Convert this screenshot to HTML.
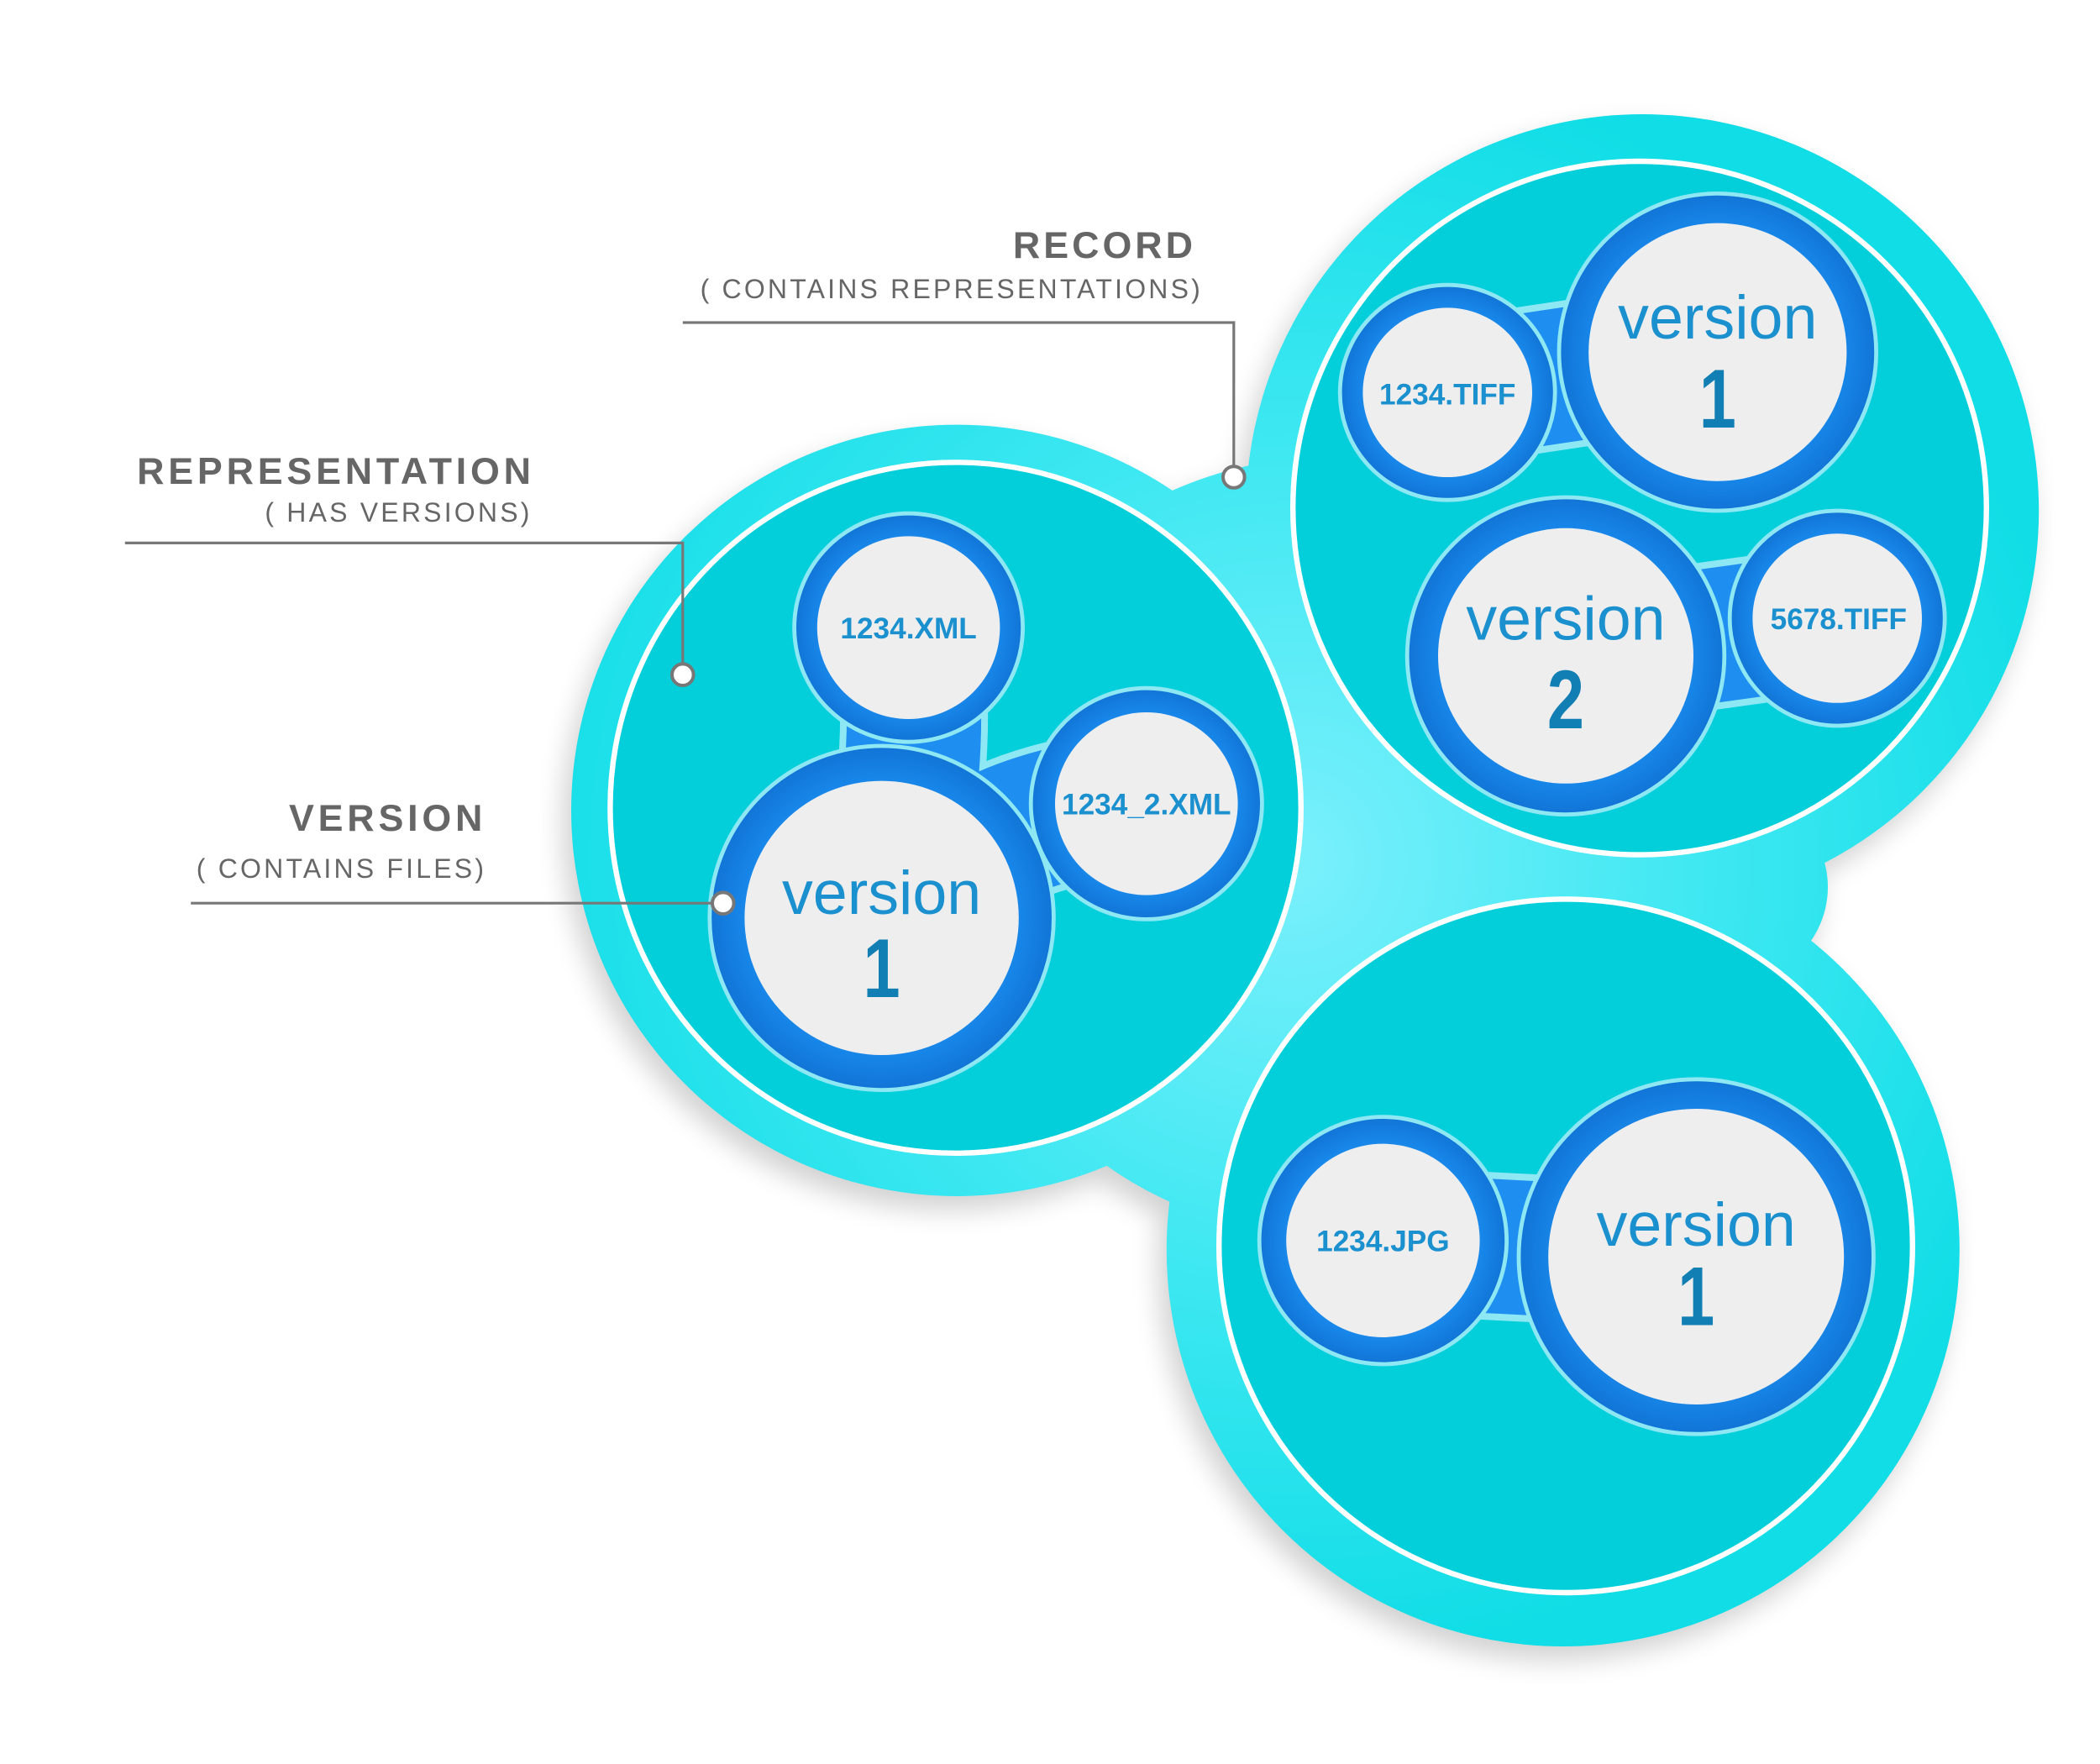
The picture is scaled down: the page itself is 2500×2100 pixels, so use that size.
<!DOCTYPE html>
<html><head><meta charset="utf-8"><style>
html,body{margin:0;padding:0;background:#fff;width:2500px;height:2100px;overflow:hidden}
svg{display:block}
text{font-family:"Liberation Sans",sans-serif}
</style></head><body>
<svg width="2500" height="2100" viewBox="0 0 1562.5 1312.5" xmlns="http://www.w3.org/2000/svg">
<defs>
<radialGradient id="bg" cx="960" cy="640" r="600" gradientUnits="userSpaceOnUse">
<stop offset="0" stop-color="#7af0fc"/><stop offset="0.5" stop-color="#40e8f2"/><stop offset="1" stop-color="#10dde6"/>
</radialGradient>
<radialGradient id="bl" cx="0.5" cy="0.5" r="0.6">
<stop offset="0" stop-color="#5cc4f4"/><stop offset="0.6" stop-color="#1a8ef0"/><stop offset="1" stop-color="#0a62c4"/>
</radialGradient>
<filter id="sh" x="-10%" y="-10%" width="120%" height="120%"><feGaussianBlur stdDeviation="10"/></filter>
</defs>
<g fill="#000" opacity="0.18" filter="url(#sh)" transform="translate(-6,10)">
<circle cx="712" cy="603" r="287"/><circle cx="1222" cy="380" r="295"/><circle cx="1163" cy="930" r="295"/><circle cx="990" cy="630" r="290"/><circle cx="1290" cy="660" r="70"/>
</g>
<g fill="url(#bg)">
<circle cx="712" cy="603" r="287"/><circle cx="1222" cy="380" r="295"/><circle cx="1163" cy="930" r="295"/><circle cx="990" cy="630" r="290"/><circle cx="1290" cy="660" r="70"/>
</g>
<g fill="#02cfda" stroke="#fff" stroke-width="4">
<circle cx="711" cy="601" r="257"/><circle cx="1220" cy="378" r="258"/><circle cx="1165" cy="927" r="258"/>
</g>
<!-- connectors -->
<g stroke="#8ee8f4" stroke-width="110" stroke-linecap="round" fill="none">
<path d="M676,467 Q690,580 656,683 M853,598 Q740,600 656,683"/>
<path d="M1077,292 L1278,262 M1165,488 L1367,460"/>
<path d="M1029,923 L1262,935"/>
</g>
<g stroke="#1e8ff0" stroke-width="100" stroke-linecap="round" fill="none">
<path d="M676,467 Q690,580 656,683 M853,598 Q740,600 656,683"/>
<path d="M1077,292 L1278,262 M1165,488 L1367,460"/>
<path d="M1029,923 L1262,935"/>
</g>
<g stroke="#8ee8f4" stroke-width="3" fill="url(#bl)">
<circle cx="676" cy="467" r="85"/><circle cx="853" cy="598" r="86"/><circle cx="656" cy="683" r="128"/>
<circle cx="1077" cy="292" r="80"/><circle cx="1278" cy="262" r="118"/><circle cx="1367" cy="460" r="80"/><circle cx="1165" cy="488" r="118"/>
<circle cx="1029" cy="923" r="92"/><circle cx="1262" cy="935" r="132"/>
</g>
<g fill="#eeeeee">
<circle cx="676" cy="467" r="68"/><circle cx="853" cy="598" r="68"/><circle cx="656" cy="683" r="102"/>
<circle cx="1077" cy="292" r="63"/><circle cx="1278" cy="262" r="96"/><circle cx="1367" cy="460" r="63"/><circle cx="1165" cy="488" r="95"/>
<circle cx="1029" cy="923" r="72"/><circle cx="1262" cy="935" r="110"/>
</g>
<g fill="#1a90cf" font-size="46" text-anchor="middle">
<text x="656" y="680">version</text><text x="1278" y="252">version</text><text x="1165" y="476">version</text><text x="1262" y="927">version</text>
</g>
<g fill="#117fb4" font-size="62" font-weight="bold" text-anchor="middle">
<text x="656" y="742" transform="translate(656,0) scale(0.8,1) translate(-656,0)">1</text>
<text x="1278" y="318" transform="translate(1278,0) scale(0.8,1) translate(-1278,0)">1</text>
<text x="1165" y="542" transform="translate(1165,0) scale(0.8,1) translate(-1165,0)">2</text>
<text x="1262" y="986" transform="translate(1262,0) scale(0.8,1) translate(-1262,0)">1</text>
</g>
<g fill="#1a90cf" font-size="22" font-weight="bold" text-anchor="middle">
<text x="676" y="475">1234.XML</text><text x="853" y="606">1234_2.XML</text><text x="1077" y="301">1234.TIFF</text><text x="1368" y="468">5678.TIFF</text><text x="1029" y="931">1234.JPG</text>
</g>
<g fill="#666" text-anchor="end">
<text x="890" y="192" font-size="28" font-weight="bold" letter-spacing="2.5">RECORD</text>
<text x="895" y="222" font-size="20" letter-spacing="2">( CONTAINS REPRESENTATIONS)</text>
<text x="398" y="360" font-size="28" font-weight="bold" letter-spacing="3">REPRESENTATION</text>
<text x="396" y="388" font-size="20" letter-spacing="2">( HAS VERSIONS)</text>
<text x="362" y="618" font-size="28" font-weight="bold" letter-spacing="3">VERSION</text>
<text x="362" y="653" font-size="20" letter-spacing="2">( CONTAINS FILES)</text>
</g>
<g fill="none" stroke="#777" stroke-width="2">
<polyline points="508,240 918,240 918,347"/>
<polyline points="93,404 508,404 508,494"/>
<polyline points="142,672 530,672"/>
</g>
<g fill="#fff" stroke="#777" stroke-width="2.5">
<circle cx="918" cy="355" r="8"/><circle cx="508" cy="502" r="8"/><circle cx="538" cy="672" r="8"/>
</g>
</svg>
</body></html>
